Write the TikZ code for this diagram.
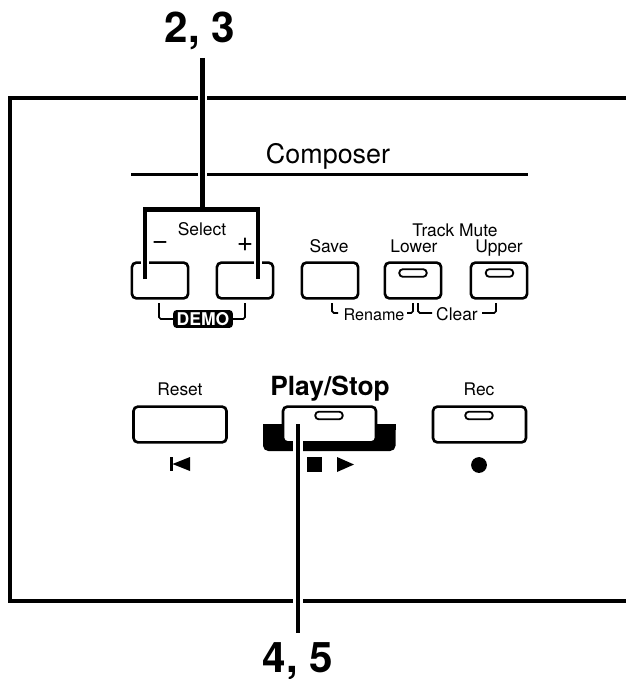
\documentclass[tikz,border=0pt]{standalone}
\usepackage{fontspec}
\setmainfont{TeX Gyre Heros}
\tikzset{
  px/.style={x=0.02cm,y=-0.02cm},
  frameline/.style={line width=1.9pt},
  rule/.style={line width=1.9pt},
  btn/.style={draw,line width=1.5pt,rounded corners=2.6pt,fill=white,inner sep=0pt,minimum height=20.4pt},
  smallbtn/.style={btn,minimum width=32pt},
  widebtn/.style={btn,minimum width=53pt},
  led/.style={draw,line width=1.05pt,rounded corners=1.8pt,fill=white,inner sep=0pt,minimum width=15.5pt,minimum height=4.2pt},
  lab/.style={inner sep=0pt,anchor=base,font=\fontsize{9.9pt}{10pt}\selectfont},
  big/.style={inner sep=0pt,anchor=base,font=\fontsize{24pt}{25pt}\selectfont\bfseries},
  leader/.style={line width=2.6pt},
  halo/.style={line width=5.5pt,white},
  hook/.style={line width=1pt,rounded corners=1pt},
}
\begin{document}
\begin{tikzpicture}[px]
\useasboundingbox (0,0) rectangle (626,679);
% panel frame
\coordinate (ftr) at (626,98); \coordinate (ftl) at (10,98);
\coordinate (fbl) at (10,601); \coordinate (fbr) at (626,601);
\draw[frameline] (ftr) -- (ftl) -- (fbl) -- (fbr);
% Composer
\node[lab,font=\fontsize{15.3pt}{16pt}\selectfont] (composer) at (328,163) {Composer};
\coordinate (rl) at (131,174.5); \coordinate (rr) at (528,174.5);
\draw[rule] (rl) -- (rr);
% buttons row 1
\node[smallbtn] (minus) at (160,280.5) {};
\node[smallbtn] (plus) at (245,280.5) {};
\node[smallbtn] (save) at (330,280.5) {};
\node[smallbtn] (lower) at (413,280.5) {};
\node[smallbtn] (upper) at (499,280.5) {};
\node[led] (ledlower) at (413,273) {};
\node[led] (ledupper) at (499.5,273) {};
% labels row 1
\node[lab] (select) at (202,235) {Select};
\node[lab,font=\fontsize{16pt}{16pt}\selectfont] (minuslab) at (160,249) {\char"2212};
\node[lab,font=\fontsize{16pt}{16pt}\selectfont] (pluslab) at (245,251) {+};
\node[lab] (savelab) at (329,252) {Save};
\node[lab] (tracklab) at (455,236) {Track Mute};
\node[lab] (lowerlab) at (414,252) {Lower};
\node[lab] (upperlab) at (499,252) {Upper};
% bracket 2,3
\node[big] (n23) at (200,43) {2, 3};
\coordinate (b23top) at (202.5,58);
\coordinate (b23j) at (202.5,209.5);
\coordinate (bl) at (145,209.5); \coordinate (br) at (258,209.5);
\coordinate (ble) at (145,279); \coordinate (bre) at (258,279);
\draw[halo] (b23top) -- (b23j);
\draw[line width=5pt,white] (ble) -- (145,255);
\draw[line width=5pt,white] (bre) -- (258,255);
\draw[leader] (b23top) -- (b23j);
\draw[leader] (ble) -- (bl) -- (br) -- (bre);
% DEMO
\node[fill=black,text=white,rounded corners=2pt,inner sep=0pt,minimum width=34pt,minimum height=10.2pt,font=\fontsize{10pt}{10pt}\selectfont\bfseries] (demo) at (203,319) {DEMO};
\coordinate (dl) at (159,303); \coordinate (dr) at (245,303);
\draw[hook] (dl) |- (demo.west);
\draw[hook] (dr) |- (demo.east);
% Rename/Clear
\node[lab,font=\fontsize{9.2pt}{10pt}\selectfont] (rename) at (374,320) {Rename};
\node[lab] (clear) at (457,320) {Clear};
\coordinate (h1) at (332,303); \coordinate (h1e) at (338,313);
\coordinate (h2) at (413,303); \coordinate (h2e) at (407,313);
\coordinate (h3) at (418,303); \coordinate (h3e) at (432,313);
\coordinate (h4) at (496,303); \coordinate (h4e) at (482,313);
\draw[hook] (h1) |- (h1e);
\draw[hook] (h2) |- (h2e);
\draw[hook] (h3) |- (h3e);
\draw[hook] (h4) |- (h4e);
% row 2
\node[lab] (resetlab) at (180,395) {Reset};
\node[lab] (reclab) at (479,395) {Rec};
\node[lab,font=\fontsize{15pt}{16pt}\selectfont\bfseries] (playlab) at (330,395) {Play/Stop};
\fill[rounded corners=3pt] (263,424) -- (395.5,424) -- (395.5,451) -- (263,451) -- cycle;
\fill (263,424) rectangle (270,430);
\fill (389,424) rectangle (395.5,430);
\node[widebtn] (reset) at (180,424.5) {};
\node[widebtn] (play) at (329.5,424.5) {};
\node[widebtn] (rec) at (479.5,424.5) {};
\node[led] (ledplay) at (329,415.5) {};
\node[led] (ledrec) at (479,415.5) {};
% transport symbols
\fill (170,457) rectangle (172.5,471);
\fill (172.5,464) -- (190,457) -- (190,471) -- cycle;
\fill (307,457) rectangle (322,472);
\fill (337,457) -- (354,464.5) -- (337,472) -- cycle;
\node[circle,fill=black,inner sep=0pt,minimum size=9pt] (recdot) at (479,465) {};
% leader 4,5
\node[big] (n45) at (298,672) {4, 5};
\coordinate (l45t) at (298,424); \coordinate (l45b) at (298,633);
\draw[halo] (l45t) -- (l45b);
\draw[leader] (l45t) -- (l45b);
\end{tikzpicture}
\end{document}
